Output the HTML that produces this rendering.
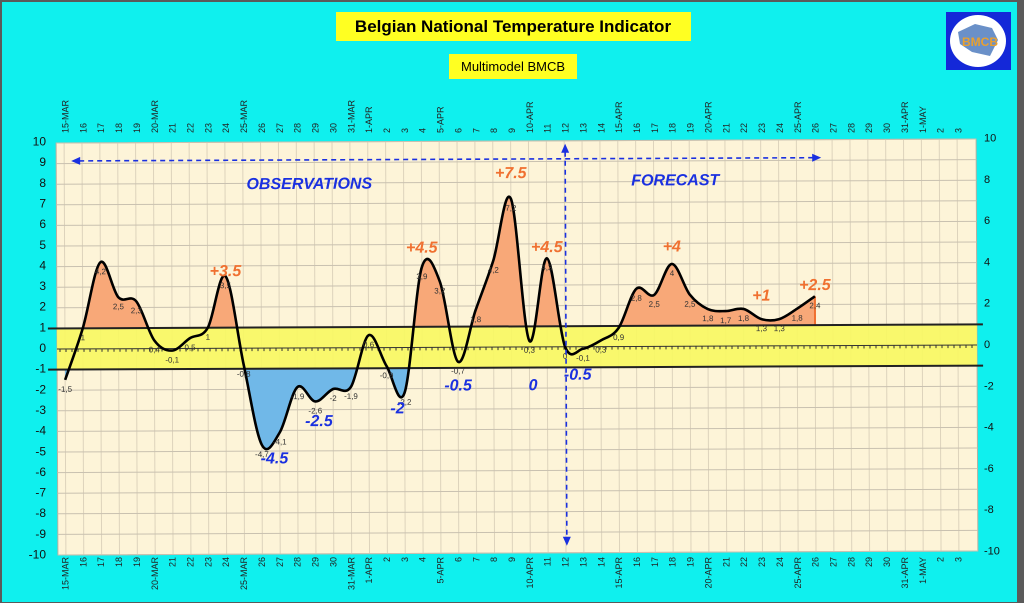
<!DOCTYPE html>
<html><head><meta charset="utf-8"><style>
html,body{margin:0;padding:0;background:#fff;}
svg{display:block;font-family:"Liberation Sans",sans-serif;}
</style></head><body>
<svg id="chart" width="1024" height="610" viewBox="0 0 1024 610">
<rect x="0" y="0" width="1024" height="610" fill="#5a5a5a"/>
<rect x="2" y="2" width="1015" height="600" fill="#0ff0ee"/>
<rect x="0" y="603" width="1024" height="7" fill="#ffffff"/>
<rect x="336" y="12" width="355" height="29" fill="#ffff22"/>
<text x="513" y="32" text-anchor="middle" font-size="17" font-weight="bold" fill="#000">Belgian National Temperature Indicator</text>
<rect x="449" y="54" width="128" height="25" fill="#ffff22"/>
<text x="513" y="71" text-anchor="middle" font-size="13" fill="#000">Multimodel BMCB</text>
<g>
<rect x="946" y="12" width="65" height="58" fill="#1428d8"/>
<ellipse cx="978" cy="41" rx="28" ry="26" fill="#fff"/>
<path d="M958 32 L975 24 L992 28 L998 40 L990 56 L972 52 L960 44 Z" fill="#6a90c8"/>
<text x="980" y="46" text-anchor="middle" font-size="12" font-weight="bold" fill="#e8a030">BMCB</text>
</g>
<g id="plot" transform="rotate(-0.25 517 346)"></g>
<g id="axes"></g>
</svg>
<script>
const dates=["15-MAR","16","17","18","19","20-MAR","21","22","23","24","25-MAR","26","27","28","29","30","31-MAR","1-APR","2","3","4","5-APR","6","7","8","9","10-APR","11","12","13","14","15-APR","16","17","18","19","20-APR","21","22","23","24","25-APR","26","27","28","29","30","31-APR","1-MAY","2","3"];
const temps=[-1.5,1,4.2,2.5,2.3,0.4,-0.1,0.5,1,3.5,-0.8,-4.7,-4.1,-1.9,-2.6,-2,-1.9,0.6,-0.9,-2.2,3.9,3.2,-0.7,1.8,4.2,7.2,0.3,4.3,0,-0.1,0.3,0.9,2.8,2.5,4,2.5,1.8,1.7,1.8,1.3,1.3,1.8,2.4];
const leftTicks=[10,9,8,7,6,5,4,3,2,1,0,-1,-2,-3,-4,-5,-6,-7,-8,-9,-10];
const rightTicks=[10,8,6,4,2,0,-2,-4,-6,-8,-10];
const warmLabels=["+3.5","+4.5","+7.5","+4.5","+4","+1","+2.5"];
const warmAt=[[9,3.5],[20,4.6],[25,8.2],[27,4.6],[34,4.6],[39,2.2],[42,2.7]];
const coldLabels=["-4.5","-2.5","-2","-0.5","0","-0.5"];
const coldAt=[[11.7,-5.6],[14.2,-3.8],[18.6,-3.2],[22,-2.1],[26.2,-2.1],[28.7,-1.6]];
const bandTop=1, bandBottom=-1;

const NS="http://www.w3.org/2000/svg";
const PX0=57,PX1=977,PY0=141,PY1=553;
const x=i=>65+i*17.86;
const y=v=>347-v*20.6;
function mk(tag,attrs,parent,txt){const e=document.createElementNS(NS,tag);for(const k in attrs)e.setAttribute(k,attrs[k]);if(txt!==undefined)e.textContent=txt;parent.appendChild(e);return e;}
const plot=document.getElementById('plot');
const axes=document.getElementById('axes');

const bg=mk('rect',{x:PX0,y:PY0,width:PX1-PX0,height:PY1-PY0,fill:'#fdf4d8',stroke:'#b8b0a0','stroke-width':1},plot);


for(let i=0;i<dates.length;i++){const l=mk('line',{x1:x(i),x2:x(i),y1:PY0,y2:PY1,stroke:'#ddd3bc','stroke-width':1},plot);

}
for(const t of leftTicks){const l=mk('line',{x1:PX0,x2:PX1,y1:y(t),y2:y(t),stroke:'#c9c1b0','stroke-width':1},plot);

}
const band=mk('rect',{x:PX0,y:y(bandTop),width:PX1-PX0,height:y(bandBottom)-y(bandTop),fill:'#f8f860',opacity:0.9},plot);



// spline
const pts=temps.map((v,i)=>[x(i),y(v)]);
let d=`M${pts[0][0]},${pts[0][1]}`;
for(let i=0;i<pts.length-1;i++){const p0=pts[Math.max(0,i-1)],p1=pts[i],p2=pts[i+1],p3=pts[Math.min(pts.length-1,i+2)];
d+=` C${p1[0]+(p2[0]-p0[0])/6},${p1[1]+(p2[1]-p0[1])/6} ${p2[0]-(p3[0]-p1[0])/6},${p2[1]-(p3[1]-p1[1])/6} ${p2[0]},${p2[1]}`;}
const defs=mk('defs',{},plot);
const c1=mk('clipPath',{id:'above'},defs);mk('rect',{x:PX0,y:PY0,width:PX1-PX0,height:y(bandTop)-PY0},c1);
const c2=mk('clipPath',{id:'below'},defs);mk('rect',{x:PX0,y:y(bandBottom),width:PX1-PX0,height:PY1-y(bandBottom)},c2);
const last=pts[pts.length-1];
const warm=mk('path',{d:d+` L${last[0]},${y(bandTop)} L${pts[0][0]},${y(bandTop)} Z`,fill:'#f8a878','clip-path':'url(#above)'},plot);


const cold=mk('path',{d:d+` L${last[0]},${y(bandBottom)} L${pts[0][0]},${y(bandBottom)} Z`,fill:'#70b8e8','clip-path':'url(#below)'},plot);


const endl=mk('line',{x1:last[0],x2:last[0],y1:last[1],y2:y(bandTop),stroke:'#f07030','stroke-width':2},plot);


// zero line with ticks
const z=mk('line',{x1:PX0,x2:PX1,y1:y(0),y2:y(0),stroke:'#333','stroke-width':1},plot);


let tk='';for(let xx=PX0+3;xx<PX1;xx+=6)tk+=`M${xx},${y(0)}v3`;
mk('path',{d:tk,stroke:'#333','stroke-width':1},plot);
for(const [v,n] of [[bandTop,'band-upper-line'],[bandBottom,'band-lower-line']]){const l=mk('line',{x1:48,x2:983,y1:y(v),y2:y(v),stroke:'#222','stroke-width':2},plot);

}
const curve=mk('path',{d:d,fill:'none',stroke:'#000','stroke-width':2.6},plot);


temps.forEach((v,i)=>{const t=mk('text',{x:x(i),y:y(v)+(v>=0?12:12),'text-anchor':'middle','font-size':8,fill:'#333'},plot,String(v).replace('.',','));

});
warmLabels.forEach((s,k)=>{const t=mk('text',{x:x(warmAt[k][0]),y:y(warmAt[k][1]),'text-anchor':'middle','font-size':16,'font-weight':'bold','font-style':'italic',fill:'#f07030'},plot,s);

});
coldLabels.forEach((s,k)=>{const t=mk('text',{x:x(coldAt[k][0]),y:y(coldAt[k][1]),'text-anchor':'middle','font-size':16,'font-weight':'bold','font-style':'italic',fill:'#1a30e0'},plot,s);

});
// arrows
const ar=mk('g',{stroke:'#1a30e0','stroke-width':1.6,fill:'#1a30e0'},plot);


mk('line',{x1:80,x2:814,y1:159,y2:159,'stroke-dasharray':'5,4'},ar);
mk('path',{d:'M72,159 l9,-4 v8 Z',stroke:'none'},ar);
mk('path',{d:'M822,159 l-9,-4 v8 Z',stroke:'none'},ar);
mk('line',{x1:566,x2:566,y1:152,y2:538,'stroke-dasharray':'5,4'},ar);
mk('path',{d:'M566,144 l-4,9 h8 Z',stroke:'none'},ar);
mk('path',{d:'M566,546 l-4,-9 h8 Z',stroke:'none'},ar);
const o=mk('text',{x:310,y:188,'text-anchor':'middle','font-size':16,'font-weight':'bold','font-style':'italic',fill:'#1a30e0'},plot,'OBSERVATIONS');


const f=mk('text',{x:676,y:186,'text-anchor':'middle','font-size':16,'font-weight':'bold','font-style':'italic',fill:'#1a30e0'},plot,'FORECAST');



// axes labels
leftTicks.forEach(t=>{const e=mk('text',{x:46,y:347-t*20.65+5,'text-anchor':'end','font-size':12,fill:'#111'},axes,String(t));

});
rightTicks.forEach(t=>{const e=mk('text',{x:984,y:343-t*20.65+5,'text-anchor':'start','font-size':11,fill:'#111'},axes,String(t));

});
dates.forEach((s,i)=>{const xx=x(i)+3.5;
const a=mk('text',{x:0,y:0,transform:`translate(${xx},133) rotate(-90)`,'text-anchor':'start','font-size':9,fill:'#222'},axes,s);


const b=mk('text',{x:0,y:0,transform:`translate(${xx},557) rotate(-90)`,'text-anchor':'end','font-size':9,fill:'#222'},axes,s);

});
</script>
</body></html>
